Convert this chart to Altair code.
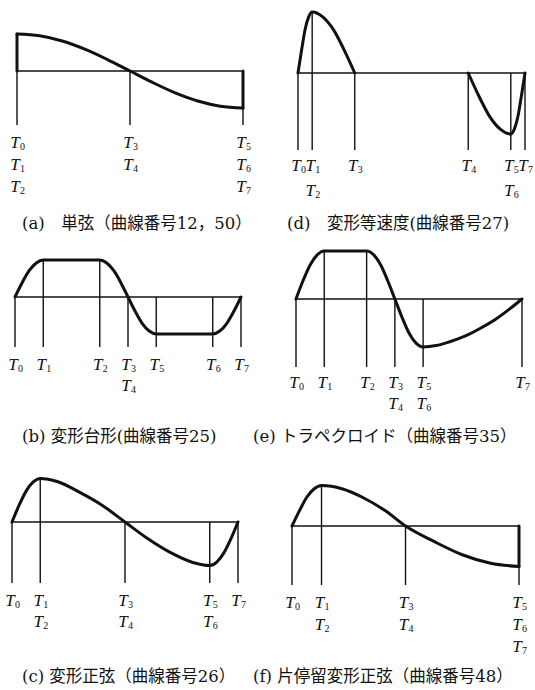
import altair as alt
import pandas as pd

# Cam acceleration diagrams: time is normalised (T0 = 0, T7 = 1),
# acceleration is normalised to its peak magnitude (+1 / -1).

# ---- (a) 単弦 ----
A_BOUNDS = [0.0, 0.5, 1.0]
A_BOUND_TOP = [1.0, 0.0, 0.0]
A_BOUND_LABELS = [[0, 1, 2], [3, 4], [5, 6, 7]]
A_ARC_T = [[0.0, 0.1, 0.2, 0.3, 0.4, 0.5, 0.6, 0.7, 0.8, 0.9, 1.0]]
A_ARC_A = [[1.0, 0.95, 0.81, 0.59, 0.31, 0.0, -0.31, -0.59, -0.81, -0.95, -1.0]]
A_JUMPS = [[0.0, 0.0, 1.0], [1.0, 0.0, -1.0]]
A_CAPTION = "(a)\u3000単弦（曲線番号12，50）"

# ---- (d) 変形等速度 ----
D_BOUNDS = [0.0, 0.0625, 0.25, 0.75, 0.9375, 1.0]
D_BOUND_TOP = [0.0, 1.0, 0.0, 0.0, 0.0, 0.0]
D_BOUND_LABELS = [[0], [1, 2], [3], [4], [5, 6], [7]]
D_ARC_T = [
    [0.0, 0.016, 0.031, 0.047, 0.0625, 0.109, 0.156, 0.203, 0.25],
    [0.75, 0.797, 0.844, 0.891, 0.9375, 0.953, 0.969, 0.984, 1.0],
]
D_ARC_A = [
    [0.0, 0.38, 0.71, 0.92, 1.0, 0.92, 0.71, 0.38, 0.0],
    [0.0, -0.38, -0.71, -0.92, -1.0, -0.92, -0.71, -0.38, 0.0],
]
D_JUMPS = []
D_CAPTION = "(d)\u3000変形等速度(曲線番号27)"

# ---- (b) 変形台形 ----
B_BOUNDS = [0.0, 0.125, 0.375, 0.5, 0.625, 0.875, 1.0]
B_BOUND_TOP = [0.0, 1.0, 1.0, 0.0, 0.0, 0.0, 0.0]
B_BOUND_LABELS = [[0], [1], [2], [3, 4], [5], [6], [7]]
B_ARC_T = [[0.0, 0.031, 0.0625, 0.094, 0.125, 0.375, 0.406, 0.4375, 0.469, 0.5,
            0.531, 0.5625, 0.594, 0.625, 0.875, 0.906, 0.9375, 0.969, 1.0]]
B_ARC_A = [[0.0, 0.38, 0.71, 0.92, 1.0, 1.0, 0.92, 0.71, 0.38, 0.0,
            -0.38, -0.71, -0.92, -1.0, -1.0, -0.92, -0.71, -0.38, 0.0]]
B_JUMPS = []
B_CAPTION = "(b) 変形台形(曲線番号25)"

# ---- (e) トラペクロイド ----
E_BOUNDS = [0.0, 0.125, 0.3125, 0.4375, 0.5625, 1.0]
E_BOUND_TOP = [0.0, 1.0, 1.0, 0.0, 0.0, 0.0]
E_BOUND_LABELS = [[0], [1], [2], [3, 4], [5, 6], [7]]
E_ARC_T = [[0.0, 0.031, 0.0625, 0.094, 0.125, 0.3125, 0.344, 0.375, 0.406, 0.4375,
            0.469, 0.5, 0.531, 0.5625, 0.62, 0.68, 0.75, 0.82, 0.89, 0.95, 1.0]]
E_ARC_A = [[0.0, 0.38, 0.71, 0.92, 1.0, 1.0, 0.92, 0.71, 0.38, 0.0,
            -0.38, -0.71, -0.92, -1.0, -0.97, -0.89, -0.77, -0.6, -0.4, -0.19, 0.0]]
E_JUMPS = []
E_CAPTION = "(e) トラペクロイド（曲線番号35）"

# ---- (c) 変形正弦 ----
C_BOUNDS = [0.0, 0.125, 0.5, 0.875, 1.0]
C_BOUND_TOP = [0.0, 1.0, 0.0, 0.0, 0.0]
C_BOUND_LABELS = [[0], [1, 2], [3, 4], [5, 6], [7]]
C_ARC_T = [[0.0, 0.031, 0.0625, 0.094, 0.125, 0.2, 0.3, 0.4, 0.5,
            0.6, 0.7, 0.8, 0.875, 0.906, 0.9375, 0.969, 1.0]]
C_ARC_A = [[0.0, 0.38, 0.71, 0.92, 1.0, 0.93, 0.68, 0.38, 0.0,
            -0.38, -0.7, -0.93, -1.0, -0.92, -0.71, -0.38, 0.0]]
C_JUMPS = []
C_CAPTION = "(c) 変形正弦（曲線番号26）"

# ---- (f) 片停留変形正弦 ----
F_BOUNDS = [0.0, 0.13, 0.5, 1.0]
F_BOUND_TOP = [0.0, 1.0, 0.0, 0.0]
F_BOUND_LABELS = [[0], [1, 2], [3, 4], [5, 6, 7]]
F_ARC_T = [[0.0, 0.033, 0.065, 0.098, 0.13, 0.22, 0.31, 0.41, 0.5,
            0.625, 0.75, 0.875, 1.0]]
F_ARC_A = [[0.0, 0.38, 0.71, 0.92, 1.0, 0.92, 0.71, 0.38, 0.0,
            -0.38, -0.71, -0.92, -1.0]]
F_JUMPS = [[1.0, 0.0, -1.0]]
F_CAPTION = "(f) 片停留変形正弦（曲線番号48）"

INK = "#111111"
T_FONT = "Liberation Serif"
CAPTION_FONT = "DejaVu Serif, Noto Sans CJK JP"
COL_W = [250, 285]
ROW_H = [238, 220, 232]


def panel(bounds, tops, labels, arc_t, arc_a, jumps, caption, frame, w, h):
    # scale domains chosen so that T0..T7 and -1..+1 land on the panel's drawing frame
    span = frame["x7"] - frame["x0"]
    xs = alt.Scale(domain=[-frame["x0"] / span, (w - frame["x0"]) / span], nice=False, zero=False)
    unit = frame["unit"]
    ys = alt.Scale(domain=[-(h - frame["base"]) / unit, frame["base"] / unit], nice=False, zero=False)
    X = lambda f: alt.X(f, type="quantitative", scale=xs, axis=None)
    Y = lambda f: alt.Y(f, type="quantitative", scale=ys, axis=None)

    base_df = pd.DataFrame({"t0": [bounds[0]], "t1": [bounds[-1]], "zero": [0.0]})
    baseline = alt.Chart(base_df).mark_rule(color=INK, strokeWidth=1.4).encode(
        x=X("t0"), x2="t1", y=Y("zero"))

    bound_df = pd.DataFrame({"t": bounds, "top": tops})
    verticals = alt.Chart(bound_df).mark_rule(color=INK, strokeWidth=1.4).encode(
        x=X("t"), y=Y("top"), y2=alt.value(frame["bottom"]))

    rows = []
    for seg, (ts, av) in enumerate(zip(arc_t, arc_a)):
        rows += [{"seg": seg, "t": t, "a": a} for t, a in zip(ts, av)]
    curve = alt.Chart(pd.DataFrame(rows)).mark_line(
        color=INK, strokeWidth=3, interpolate="monotone", strokeCap="round", strokeJoin="round"
    ).encode(x=X("t"), y=Y("a"), detail="seg:N")

    layers = [baseline, verticals, curve]

    if jumps:
        jump_df = pd.DataFrame(jumps, columns=["t", "a1", "a2"])
        layers.append(alt.Chart(jump_df).mark_rule(color=INK, strokeWidth=3, strokeCap="round").encode(
            x=X("t"), y=Y("a1"), y2="a2"))

    lab_rows = []
    for t, idx in zip(bounds, labels):
        for r, k in enumerate(idx):
            lab_rows.append({"t": t, "row": r, "sub": str(k)})
    lab_df = pd.DataFrame(lab_rows)
    for r in range(int(lab_df["row"].max()) + 1):
        ypix = frame["label_y"] + r * frame["gap"]
        src = alt.Chart(lab_df).transform_filter(alt.datum.row == r)
        layers.append(src.mark_text(
            text="T", font=T_FONT, fontStyle="italic", fontSize=17, color=INK,
            align="center", baseline="middle", dx=-2
        ).encode(x=X("t"), y=alt.value(ypix)))
        layers.append(src.mark_text(
            font=T_FONT, fontSize=10, color=INK, align="left", baseline="middle", dx=3, dy=4
        ).encode(x=X("t"), y=alt.value(ypix), text="sub:N"))

    cap_df = pd.DataFrame({"caption": [caption]})
    layers.append(alt.Chart(cap_df).mark_text(
        font=CAPTION_FONT, fontSize=16.5, color=INK, align="left", baseline="middle"
    ).encode(text="caption:N", x=alt.value(frame["cap_x"]), y=alt.value(frame["cap_y"])))

    return alt.layer(*layers).properties(width=w, height=h)


chart_a = panel(A_BOUNDS, A_BOUND_TOP, A_BOUND_LABELS, A_ARC_T, A_ARC_A, A_JUMPS, A_CAPTION,
                dict(x0=17, x7=243, base=71, unit=37, bottom=125,
                     label_y=143, gap=22, cap_x=22, cap_y=224), COL_W[0], ROW_H[0])
chart_d = panel(D_BOUNDS, D_BOUND_TOP, D_BOUND_LABELS, D_ARC_T, D_ARC_A, D_JUMPS, D_CAPTION,
                dict(x0=48, x7=275, base=73, unit=61, bottom=150,
                     label_y=166, gap=25, cap_x=37, cap_y=224), COL_W[1], ROW_H[0])
chart_b = panel(B_BOUNDS, B_BOUND_TOP, B_BOUND_LABELS, B_ARC_T, B_ARC_A, B_JUMPS, B_CAPTION,
                dict(x0=15, x7=241, base=59, unit=37, bottom=109,
                     label_y=127, gap=21, cap_x=22, cap_y=199), COL_W[0], ROW_H[1])
chart_e = panel(E_BOUNDS, E_BOUND_TOP, E_BOUND_LABELS, E_ARC_T, E_ARC_A, E_JUMPS, E_CAPTION,
                dict(x0=46, x7=272, base=61, unit=48, bottom=129,
                     label_y=145, gap=21, cap_x=3, cap_y=199), COL_W[1], ROW_H[1])
chart_c = panel(C_BOUNDS, C_BOUND_TOP, C_BOUND_LABELS, C_ARC_T, C_ARC_A, C_JUMPS, C_CAPTION,
                dict(x0=12, x7=238, base=64, unit=43.5, bottom=125,
                     label_y=143, gap=21, cap_x=22, cap_y=219), COL_W[0], ROW_H[2])
chart_f = panel(F_BOUNDS, F_BOUND_TOP, F_BOUND_LABELS, F_ARC_T, F_ARC_A, F_JUMPS, F_CAPTION,
                dict(x0=42, x7=269, base=68, unit=40.5, bottom=127,
                     label_y=145, gap=22, cap_x=3, cap_y=219), COL_W[1], ROW_H[2])

chart = alt.concat(
    chart_a, chart_d, chart_b, chart_e, chart_c, chart_f,
    columns=2, spacing=0, bounds="flush", align="each",
).properties(
    padding=0, background="white"
).configure_view(stroke=None)

chart.save("out.html", embed_options={"renderer": "svg", "actions": False})
